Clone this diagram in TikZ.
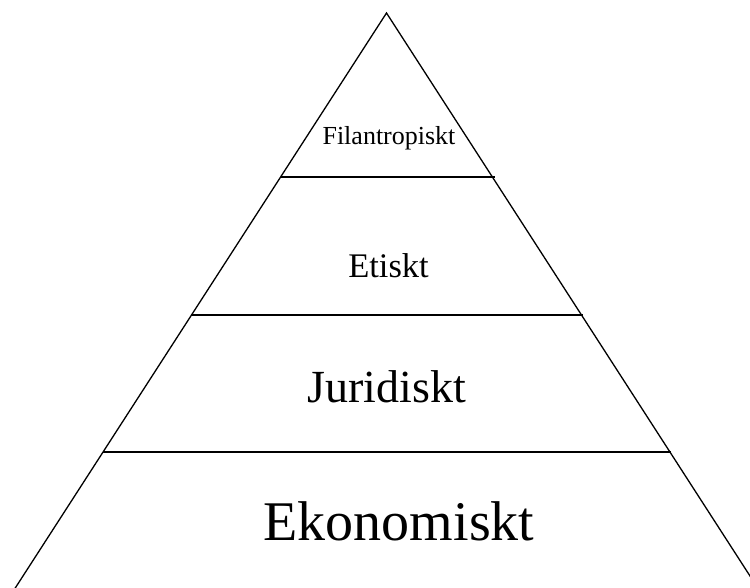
\documentclass[tikz,border=0pt]{standalone}
\usepackage{fontspec}
\setmainfont{Liberation Serif}
\begin{document}
\begin{tikzpicture}[x=1pt,y=-1pt,
  edge/.style={line width=1.3pt,black},
  level/.style={anchor=base,inner sep=0pt,text=black}]
\useasboundingbox (0,0) rectangle (750,588);
\clip (0,0) rectangle (750,588);
% apex and far ends of the two sides
\coordinate (apex) at (386.5,13);
\coordinate (bl) at (7.5,600);
\coordinate (br) at (765.5,600);
\draw[edge] (bl) -- (apex) -- (br);
% dividing lines between the levels
\coordinate (d1l) at (280.6,177);  \coordinate (d1r) at (494.5,177);
\coordinate (d2l) at (191.4,315);  \coordinate (d2r) at (583,315);
\coordinate (d3l) at (102.9,452);  \coordinate (d3r) at (670.5,452);
\draw[edge] (d1l) -- (d1r);
\draw[edge] (d2l) -- (d2r);
\draw[edge] (d3l) -- (d3r);
% level labels
\node[level,font=\fontsize{26}{30}\selectfont] (fil) at (389,145) {Filantropiskt};
\node[level,font=\fontsize{34.5}{40}\selectfont] (eti) at (388.5,277) {Etiskt};
\node[level,font=\fontsize{46}{54}\selectfont] (jur) at (387,402) {Juridiskt};
\node[level,font=\fontsize{56}{66}\selectfont] (eko) at (399,540) {Ekonomiskt};
\end{tikzpicture}
\end{document}
